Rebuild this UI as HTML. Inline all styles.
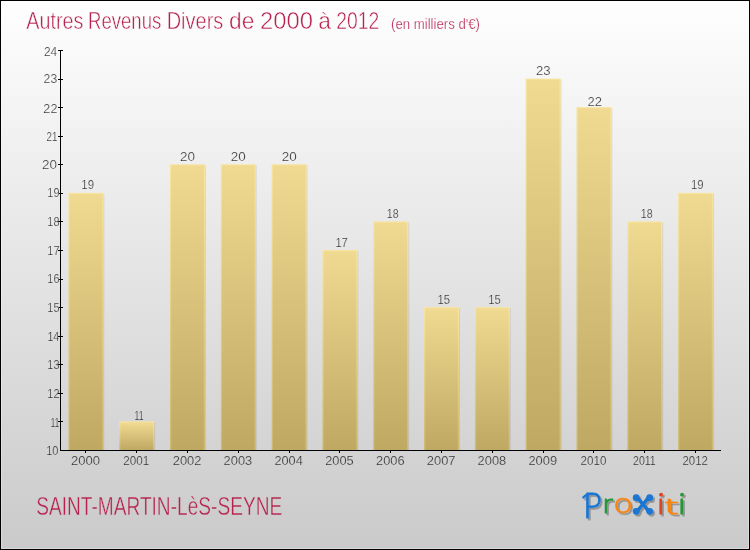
<!DOCTYPE html>
<html lang="fr">
<head>
<meta charset="utf-8">
<title>Autres Revenus Divers de 2000 à 2012 - SAINT-MARTIN-LèS-SEYNE</title>
<style>
html,body{margin:0;padding:0;background:#fff;}
body{width:750px;height:550px;overflow:hidden;}
svg{display:block;}
text{font-family:"Liberation Sans", sans-serif;}
.t{fill:#b6224f;stroke-linejoin:round;}
.a{fill:#333;font-size:13.4px;stroke-width:0.24px;stroke-linejoin:round;}
.logo{font-family:"DejaVu Sans","Liberation Sans",sans-serif;font-weight:200;stroke-linejoin:round;stroke-linecap:round;}
</style>
</head>
<body>
<svg width="750" height="550" viewBox="0 0 750 550">
<defs>
<linearGradient id="bg" x1="0" y1="0" x2="0" y2="1">
<stop offset="0" stop-color="#fefefe"/>
<stop offset="1" stop-color="#cacaca"/>
</linearGradient>
<linearGradient id="bar" x1="0" y1="0" x2="0" y2="1">
<stop offset="0" stop-color="#f0d990"/>
<stop offset="1" stop-color="#bfa862"/>
</linearGradient>
<linearGradient id="edge" x1="0" y1="0" x2="0" y2="1">
<stop offset="0" stop-color="#f7e49f"/>
<stop offset="1" stop-color="#cfb96e"/>
</linearGradient>
<filter id="sh" x="-10%" y="-20%" width="120%" height="150%">
<feDropShadow dx="1.8" dy="1.8" stdDeviation="0.5" flood-color="#000" flood-opacity="0.3"/>
</filter>
</defs>
<rect x="0" y="0" width="750" height="550" fill="#000"/>
<rect x="1" y="1" width="748" height="548" fill="url(#bg)"/>
<rect x="1.5" y="1.5" width="747" height="547" fill="none" stroke="#fff" stroke-opacity="0.3"/>

<rect x="69.40" y="193.86" width="35.00" height="256.14" fill="#000" fill-opacity="0.08"/>
<rect x="68.40" y="192.86" width="35.00" height="257.14" fill="url(#edge)"/>
<rect x="69.70" y="194.06" width="32.40" height="255.94" fill="url(#bar)"/>
<rect x="120.21" y="422.43" width="35.00" height="27.57" fill="#000" fill-opacity="0.08"/>
<rect x="119.21" y="421.43" width="35.00" height="28.57" fill="url(#edge)"/>
<rect x="120.51" y="422.63" width="32.40" height="27.37" fill="url(#bar)"/>
<rect x="171.02" y="165.29" width="35.00" height="284.71" fill="#000" fill-opacity="0.08"/>
<rect x="170.02" y="164.29" width="35.00" height="285.71" fill="url(#edge)"/>
<rect x="171.32" y="165.49" width="32.40" height="284.51" fill="url(#bar)"/>
<rect x="221.83" y="165.29" width="35.00" height="284.71" fill="#000" fill-opacity="0.08"/>
<rect x="220.83" y="164.29" width="35.00" height="285.71" fill="url(#edge)"/>
<rect x="222.13" y="165.49" width="32.40" height="284.51" fill="url(#bar)"/>
<rect x="272.63" y="165.29" width="35.00" height="284.71" fill="#000" fill-opacity="0.08"/>
<rect x="271.63" y="164.29" width="35.00" height="285.71" fill="url(#edge)"/>
<rect x="272.93" y="165.49" width="32.40" height="284.51" fill="url(#bar)"/>
<rect x="323.44" y="251.00" width="35.00" height="199.00" fill="#000" fill-opacity="0.08"/>
<rect x="322.44" y="250.00" width="35.00" height="200.00" fill="url(#edge)"/>
<rect x="323.74" y="251.20" width="32.40" height="198.80" fill="url(#bar)"/>
<rect x="374.25" y="222.43" width="35.00" height="227.57" fill="#000" fill-opacity="0.08"/>
<rect x="373.25" y="221.43" width="35.00" height="228.57" fill="url(#edge)"/>
<rect x="374.55" y="222.63" width="32.40" height="227.37" fill="url(#bar)"/>
<rect x="425.06" y="308.14" width="35.00" height="141.86" fill="#000" fill-opacity="0.08"/>
<rect x="424.06" y="307.14" width="35.00" height="142.86" fill="url(#edge)"/>
<rect x="425.36" y="308.34" width="32.40" height="141.66" fill="url(#bar)"/>
<rect x="475.87" y="308.14" width="35.00" height="141.86" fill="#000" fill-opacity="0.08"/>
<rect x="474.87" y="307.14" width="35.00" height="142.86" fill="url(#edge)"/>
<rect x="476.17" y="308.34" width="32.40" height="141.66" fill="url(#bar)"/>
<rect x="526.67" y="79.57" width="35.00" height="370.43" fill="#000" fill-opacity="0.08"/>
<rect x="525.67" y="78.57" width="35.00" height="371.43" fill="url(#edge)"/>
<rect x="526.97" y="79.77" width="32.40" height="370.23" fill="url(#bar)"/>
<rect x="577.48" y="108.14" width="35.00" height="341.86" fill="#000" fill-opacity="0.08"/>
<rect x="576.48" y="107.14" width="35.00" height="342.86" fill="url(#edge)"/>
<rect x="577.78" y="108.34" width="32.40" height="341.66" fill="url(#bar)"/>
<rect x="628.29" y="222.43" width="35.00" height="227.57" fill="#000" fill-opacity="0.08"/>
<rect x="627.29" y="221.43" width="35.00" height="228.57" fill="url(#edge)"/>
<rect x="628.59" y="222.63" width="32.40" height="227.37" fill="url(#bar)"/>
<rect x="679.10" y="193.86" width="35.00" height="256.14" fill="#000" fill-opacity="0.08"/>
<rect x="678.10" y="192.86" width="35.00" height="257.14" fill="url(#edge)"/>
<rect x="679.40" y="194.06" width="32.40" height="255.94" fill="url(#bar)"/>
<g stroke="#000" stroke-width="1" fill="none" shape-rendering="crispEdges">
<path d="M60.5 50V451"/>
<path d="M60 450.5H721"/>
<path d="M58 421.5H63"/>
<path d="M58 393.5H63"/>
<path d="M58 364.5H63"/>
<path d="M58 336.5H63"/>
<path d="M58 307.5H63"/>
<path d="M58 279.5H63"/>
<path d="M58 250.5H63"/>
<path d="M58 221.5H63"/>
<path d="M58 193.5H63"/>
<path d="M58 164.5H63"/>
<path d="M58 136.5H63"/>
<path d="M58 107.5H63"/>
<path d="M58 79.5H63"/>
<path d="M58 50.5H63"/>
<path d="M85.5 450V453"/>
<path d="M136.5 450V453"/>
<path d="M187.5 450V453"/>
<path d="M238.5 450V453"/>
<path d="M289.5 450V453"/>
<path d="M339.5 450V453"/>
<path d="M390.5 450V453"/>
<path d="M441.5 450V453"/>
<path d="M492.5 450V453"/>
<path d="M543.5 450V453"/>
<path d="M593.5 450V453"/>
<path d="M644.5 450V453"/>
<path d="M695.5 450V453"/>
</g>
<text class="a" x="46.16" y="455.0" textLength="12.27" lengthAdjust="spacingAndGlyphs" stroke="#d3d3d3">10</text>
<text class="a" x="50.83" y="426.7" textLength="8.34" lengthAdjust="spacingAndGlyphs" stroke="#d6d6d6">11</text>
<text class="a" x="47.37" y="398.0" textLength="12.18" lengthAdjust="spacingAndGlyphs" stroke="#d9d9d9">12</text>
<text class="a" x="47.37" y="368.9" textLength="12.11" lengthAdjust="spacingAndGlyphs" stroke="#dcdcdc">13</text>
<text class="a" x="47.39" y="341.0" textLength="11.93" lengthAdjust="spacingAndGlyphs" stroke="#dedede">14</text>
<text class="a" x="47.37" y="312.0" textLength="12.08" lengthAdjust="spacingAndGlyphs" stroke="#e1e1e1">15</text>
<text class="a" x="47.37" y="283.2" textLength="12.11" lengthAdjust="spacingAndGlyphs" stroke="#e4e4e4">16</text>
<text class="a" x="47.37" y="255.2" textLength="12.18" lengthAdjust="spacingAndGlyphs" stroke="#e6e6e6">17</text>
<text class="a" x="47.37" y="226.3" textLength="12.10" lengthAdjust="spacingAndGlyphs" stroke="#e9e9e9">18</text>
<text class="a" x="47.37" y="196.7" textLength="12.14" lengthAdjust="spacingAndGlyphs" stroke="#ececec">19</text>
<text class="a" x="42.13" y="169.2" textLength="15.00" lengthAdjust="spacingAndGlyphs" stroke="#eeeeee">20</text>
<text class="a" x="46.51" y="141.1" textLength="10.87" lengthAdjust="spacingAndGlyphs" stroke="#f1f1f1">21</text>
<text class="a" x="43.37" y="112.8" textLength="14.07" lengthAdjust="spacingAndGlyphs" stroke="#f4f4f4">22</text>
<text class="a" x="43.59" y="83.4" textLength="13.66" lengthAdjust="spacingAndGlyphs" stroke="#f7f7f7">23</text>
<text class="a" x="44.00" y="56.0" textLength="13.24" lengthAdjust="spacingAndGlyphs" stroke="#f9f9f9">24</text>
<text class="a" x="70.90" y="465.2" textLength="29.06" lengthAdjust="spacingAndGlyphs" stroke="#d2d2d2">2000</text>
<text class="a" x="123.33" y="465.2" textLength="25.96" lengthAdjust="spacingAndGlyphs" stroke="#d2d2d2">2001</text>
<text class="a" x="172.77" y="465.2" textLength="28.69" lengthAdjust="spacingAndGlyphs" stroke="#d2d2d2">2002</text>
<text class="a" x="223.58" y="465.2" textLength="28.61" lengthAdjust="spacingAndGlyphs" stroke="#d2d2d2">2003</text>
<text class="a" x="274.40" y="465.2" textLength="28.41" lengthAdjust="spacingAndGlyphs" stroke="#d2d2d2">2004</text>
<text class="a" x="325.20" y="465.2" textLength="28.58" lengthAdjust="spacingAndGlyphs" stroke="#d2d2d2">2005</text>
<text class="a" x="376.01" y="465.2" textLength="28.61" lengthAdjust="spacingAndGlyphs" stroke="#d2d2d2">2006</text>
<text class="a" x="426.81" y="465.2" textLength="28.69" lengthAdjust="spacingAndGlyphs" stroke="#d2d2d2">2007</text>
<text class="a" x="477.62" y="465.2" textLength="28.60" lengthAdjust="spacingAndGlyphs" stroke="#d2d2d2">2008</text>
<text class="a" x="528.43" y="465.2" textLength="28.65" lengthAdjust="spacingAndGlyphs" stroke="#d2d2d2">2009</text>
<text class="a" x="580.60" y="465.2" textLength="25.84" lengthAdjust="spacingAndGlyphs" stroke="#d2d2d2">2010</text>
<text class="a" x="633.03" y="465.2" textLength="22.71" lengthAdjust="spacingAndGlyphs" stroke="#d2d2d2">2011</text>
<text class="a" x="682.47" y="465.2" textLength="25.45" lengthAdjust="spacingAndGlyphs" stroke="#d2d2d2">2012</text>
<text class="a" x="81.34" y="189.2" textLength="12.71" lengthAdjust="spacingAndGlyphs" stroke="#ededed">19</text>
<text class="a" x="134.60" y="420.2" textLength="9.01" lengthAdjust="spacingAndGlyphs" stroke="#d7d7d7">11</text>
<text class="a" x="180.04" y="161.2" textLength="15.00" lengthAdjust="spacingAndGlyphs" stroke="#efefef">20</text>
<text class="a" x="230.85" y="161.2" textLength="15.00" lengthAdjust="spacingAndGlyphs" stroke="#efefef">20</text>
<text class="a" x="281.66" y="161.2" textLength="15.00" lengthAdjust="spacingAndGlyphs" stroke="#efefef">20</text>
<text class="a" x="335.39" y="247.2" textLength="12.41" lengthAdjust="spacingAndGlyphs" stroke="#e7e7e7">17</text>
<text class="a" x="386.74" y="218.2" textLength="11.87" lengthAdjust="spacingAndGlyphs" stroke="#eaeaea">18</text>
<text class="a" x="437.40" y="304.2" textLength="12.53" lengthAdjust="spacingAndGlyphs" stroke="#e2e2e2">15</text>
<text class="a" x="488.21" y="304.2" textLength="12.53" lengthAdjust="spacingAndGlyphs" stroke="#e2e2e2">15</text>
<text class="a" x="535.92" y="75.2" textLength="14.64" lengthAdjust="spacingAndGlyphs" stroke="#f7f7f7">23</text>
<text class="a" x="587.53" y="106.2" textLength="14.51" lengthAdjust="spacingAndGlyphs" stroke="#f4f4f4">22</text>
<text class="a" x="640.78" y="218.2" textLength="11.87" lengthAdjust="spacingAndGlyphs" stroke="#eaeaea">18</text>
<text class="a" x="691.03" y="189.2" textLength="12.71" lengthAdjust="spacingAndGlyphs" stroke="#ededed">19</text>
<text class="t" font-size="24" y="29" stroke="#fcfcfc" stroke-width="0.50">
<tspan x="26.3" textLength="57.0" lengthAdjust="spacingAndGlyphs">Autres</tspan> 
<tspan x="88.0" textLength="73.3" lengthAdjust="spacingAndGlyphs">Revenus</tspan> 
<tspan x="166.7" textLength="56.6" lengthAdjust="spacingAndGlyphs">Divers</tspan> 
<tspan x="229.0" textLength="25.3" lengthAdjust="spacingAndGlyphs">de</tspan> 
<tspan x="260.0" textLength="53.0" lengthAdjust="spacingAndGlyphs">2000</tspan> 
<tspan x="318.3" textLength="12.7" lengthAdjust="spacingAndGlyphs">à</tspan> 
<tspan x="336.3" textLength="43.0" lengthAdjust="spacingAndGlyphs">2012</tspan>
</text>
<text class="t" x="391" y="29" font-size="13.8" textLength="89" lengthAdjust="spacingAndGlyphs" stroke="#fcfcfc" stroke-width="0.25">(en milliers d'€)</text>
<text class="t" x="36.2" y="514.7" font-size="26.4" textLength="246" lengthAdjust="spacingAndGlyphs" stroke="#cecece" stroke-width="0.45">SAINT-MARTIN-LèS-SEYNE</text>
<g filter="url(#sh)">
<title>Proxiti</title>
<text class="logo"><tspan x="582.78" y="518.00" font-size="34.5" textLength="19.38" lengthAdjust="spacingAndGlyphs" fill="#1a76d2" stroke="#1a76d2" stroke-width="1.00">P</tspan><tspan x="602.64" y="513.40" font-size="24.6" textLength="10.21" lengthAdjust="spacingAndGlyphs" fill="#28963a" stroke="#28963a" stroke-width="1.15">r</tspan><tspan x="612.92" y="513.30" font-size="26.5" textLength="20.20" lengthAdjust="spacingAndGlyphs" fill="#f9840f" stroke="#f9840f" stroke-width="0.65">o</tspan><tspan x="634.69" y="511.90" font-size="27.0" textLength="16.42" lengthAdjust="spacingAndGlyphs" fill="#1a76d2" stroke="#1a76d2" stroke-width="0.90" font-family="Liberation Sans" font-weight="400">x</tspan><tspan x="656.62" y="513.80" font-size="26.5" textLength="8.65" lengthAdjust="spacingAndGlyphs" fill="#e8401c" stroke="#e8401c" stroke-width="1.00">i</tspan><tspan x="663.69" y="513.70" font-size="22.0" textLength="15.56" lengthAdjust="spacingAndGlyphs" fill="#f9840f" stroke="#f9840f" stroke-width="0.75">t</tspan><tspan x="677.42" y="513.80" font-size="26.5" textLength="8.65" lengthAdjust="spacingAndGlyphs" fill="#28963a" stroke="#28963a" stroke-width="1.00">i</tspan></text>
<path d="M583.3 497.4C584.6 495.8 586.6 494.6 589.2 494.1" fill="none" stroke="#1a76d2" stroke-width="2.3" stroke-linecap="round"/>
<circle cx="636.2" cy="497.7" r="3.4" fill="#1a76d2"/>
<circle cx="649.7" cy="497.7" r="3.4" fill="#1a76d2"/>
<circle cx="636.2" cy="511.3" r="3.4" fill="#1a76d2"/>
<circle cx="649.7" cy="511.3" r="3.4" fill="#1a76d2"/>
<circle cx="661.2" cy="494.6" r="1.8" fill="#e8401c"/>
<circle cx="682.2" cy="494.5" r="1.8" fill="#28963a"/>
</g>
</svg>
</body>
</html>
